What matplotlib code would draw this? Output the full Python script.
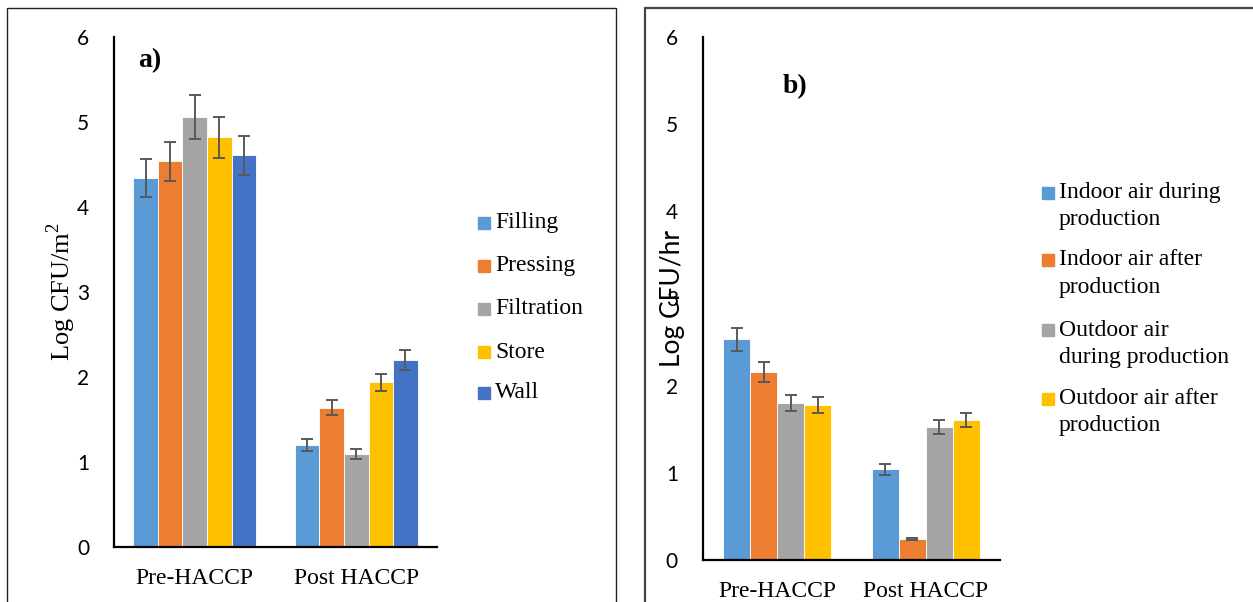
import matplotlib.pyplot as plt
from matplotlib.patches import Rectangle
import numpy as np

# stages / values for panel a (surfaces, Log CFU/m2)
groups = ["Pre-HACCP", "Post HACCP"]
surfaceNames = ["Filling", "Pressing", "Filtration", "Store", "Wall"]
surfacePre = [4.34, 4.54, 5.06, 4.82, 4.61]
surfacePost = [1.20, 1.64, 1.09, 1.94, 2.20]
surfacePreErr = [0.22, 0.23, 0.26, 0.24, 0.23]
surfacePostErr = [0.07, 0.09, 0.06, 0.10, 0.12]

# panel b (air, Log CFU/hr)
airNames = ["Indoor air during\nproduction", "Indoor air after\nproduction",
            "Outdoor air\nduring production", "Outdoor air after\nproduction"]
airPre = [2.53, 2.16, 1.80, 1.78]
airPost = [1.04, 0.24, 1.53, 1.61]
airPreErr = [0.13, 0.115, 0.09, 0.09]
airPostErr = [0.06, 0.01, 0.08, 0.08]

yTicks = [0, 1, 2, 3, 4, 5, 6]
colors = ["#5B9BD5", "#ED7D31", "#A5A5A5", "#FFC000", "#4472C4"]

W, H = 1253, 602
fig = plt.figure(figsize=(W / 100, H / 100), dpi=100)

serif = "Liberation Serif"
sans = "Lato"


def px(x, y):
    return x / W, 1 - y / H


def drawPanel(ax, names, pre, post, preErr, postErr, barWidth):
    n = len(names)
    x = np.arange(len(groups))
    for i in range(n):
        offs = (i - (n - 1) / 2) * barWidth
        ax.bar(x + offs, [pre[i], post[i]], barWidth, color=colors[i],
               edgecolor="white", linewidth=0.6, zorder=2)
        ax.errorbar(x + offs, [pre[i], post[i]], yerr=[preErr[i], postErr[i]],
                    fmt="none", ecolor="#595959", elinewidth=1.4, capsize=4.5,
                    capthick=1.4, zorder=3)
    ax.set_xlim(-0.5, 1.5)
    ax.set_ylim(0, 6)
    ax.set_yticks(yTicks)
    ax.set_xticks(x)
    ax.set_xticklabels(groups, fontsize=17, family=serif)
    for side in ["top", "right"]:
        ax.spines[side].set_visible(False)
    for side in ["left", "bottom"]:
        ax.spines[side].set_linewidth(1.6)
        ax.spines[side].set_color("black")
    ax.tick_params(axis="y", length=0, pad=18, labelsize=15)
    ax.tick_params(axis="x", length=0, pad=15)
    for t in ax.get_yticklabels():
        t.set_family(sans)
    ax.set_facecolor("none")


def drawLegend(names, mx, tx, ys, lineGap):
    for i, name in enumerate(names):
        y = ys[i]
        fig.patches.append(Rectangle(px(mx, y + 6), 12 / W, 12 / H, color=colors[i],
                                     transform=fig.transFigure, figure=fig))
        for j, line in enumerate(name.split("\n")):
            fig.text(*px(tx, y + j * lineGap), line, fontsize=17, family=serif,
                     va="center", ha="left")


# panel frames
fig.patches.append(Rectangle(px(7, 640), (616 - 7) / W, (640 - 8) / H, fill=False,
                             edgecolor="#222222", linewidth=1.0,
                             transform=fig.transFigure, figure=fig))
fig.patches.append(Rectangle(px(645, 640), (1270 - 645) / W, (640 - 8) / H, fill=False,
                             edgecolor="#444444", linewidth=1.6,
                             transform=fig.transFigure, figure=fig))

# a) surfaces
axA = fig.add_axes([114 / W, 1 - 547 / H, (437 - 114) / W, (547 - 37) / H])
drawPanel(axA, surfaceNames, surfacePre, surfacePost, surfacePreErr, surfacePostErr, 0.152)
axA.set_ylabel(r"Log CFU/m$^{\mathregular{2}}$", fontsize=19, family=serif, labelpad=-1)
fig.text(*px(138, 61), "a)", fontsize=20, family=serif, weight="bold", va="center")
drawLegend(surfaceNames, 478, 495, [223, 266, 309, 352, 393], 0)

# b) air
axB = fig.add_axes([703 / W, 1 - 560 / H, (1000 - 703) / W, (560 - 37) / H])
drawPanel(axB, airNames, airPre, airPost, airPreErr, airPostErr, 0.181)
axB.set_ylabel("Log CFU/hr", fontsize=19, family=sans, labelpad=-14)
fig.text(*px(783, 87), "b)", fontsize=20, family=serif, weight="bold", va="center")
drawLegend(airNames, 1042, 1059, [193, 260, 330, 399], 27)

fig.savefig("out.png", dpi=100)
